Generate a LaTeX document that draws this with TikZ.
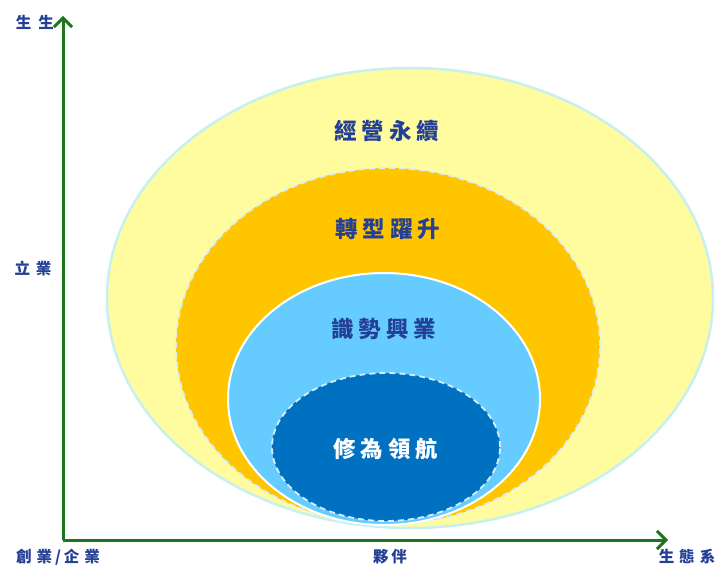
\documentclass[tikz,border=0pt]{standalone}
\usepackage{fontspec}
\newfontfamily\cjk{Noto Sans CJK TC}
\usetikzlibrary{shapes.geometric,arrows.meta}
\definecolor{axisgreen}{RGB}{28,118,28}
\definecolor{labelblue}{RGB}{36,64,150}
\definecolor{ringyellow}{RGB}{255,252,160}
\definecolor{ringcyan}{RGB}{200,240,240}
\definecolor{ringorange}{RGB}{255,198,0}
\definecolor{ringlight}{RGB}{102,204,255}
\definecolor{ringdark}{RGB}{0,112,192}
\definecolor{dashline}{RGB}{215,238,250}
\newcommand{\gapx}[1]{\hspace{#1}}
\tikzset{
  ring/.style={ellipse, inner sep=0pt},
  axisline/.style={draw=axisgreen, line width=3pt, -{Straight Barb[length=9pt,width=18pt,line width=3pt]}},
  axislabel/.style={text=labelblue, font=\cjk\fontsize{15.5}{15.5}\selectfont\bfseries},
  ringlabel/.style={text=labelblue, font=\cjk\fontsize{22.5}{22.5}\selectfont\bfseries},
}
\begin{document}
\begin{tikzpicture}[x=1pt,y=-1pt]
\useasboundingbox (0,0) rectangle (720,567);
\fill[white] (0,0) rectangle (720,567);
% rings
\node[ring, fill=ringyellow, draw=ringcyan, line width=2.5pt, minimum width=606pt, minimum height=460pt] (r1) at (410,298) {};
\node[ring, fill=ringorange, draw=dashline, line width=1.8pt, dash pattern=on 6pt off 4pt, minimum width=424pt, minimum height=356pt] (r2) at (388,346) {};
\node[ring, fill=ringlight, draw=white, line width=2pt, minimum width=312pt, minimum height=252pt] (r3) at (384,399) {};
\node[ring, fill=ringdark, draw=dashline, line width=1.8pt, dash pattern=on 6pt off 4pt, minimum width=228pt, minimum height=148pt] (r4) at (386,447) {};
% ring labels
\node[ringlabel] (t1) at (387,131) {經\gapx{5pt}營\gapx{5pt}永\gapx{5pt}續};
\node[ringlabel] (t2) at (388,229) {轉\gapx{5pt}型\gapx{5pt}躍\gapx{5pt}升};
\node[ringlabel] (t3) at (384,329) {識\gapx{5pt}勢\gapx{5pt}興\gapx{5pt}業};
\node[ringlabel, text=white] (t4) at (386,449) {修\gapx{5pt}為\gapx{5pt}領\gapx{5pt}航};
% axes
\coordinate (o) at (63,540);
\coordinate (ytip) at (63,16);
\coordinate (xtip) at (668,540);
\draw[axisline] (o) -- (ytip);
\draw[axisline] (o) -- (xtip);
% axis labels
\node[axislabel] (l1) at (35,22) {生\gapx{7pt}生};
\node[axislabel] (l2) at (33,268) {立\gapx{6pt}業};
\node[axislabel] (l3) at (58,557) {創\gapx{5pt}業\gapx{3pt}/\gapx{3pt}企\gapx{5pt}業};
\node[axislabel] (l4) at (390,557) {夥\gapx{3pt}伴};
\node[axislabel] (l5) at (687,557) {生\gapx{5pt}態\gapx{5pt}系};
\end{tikzpicture}
\end{document}
